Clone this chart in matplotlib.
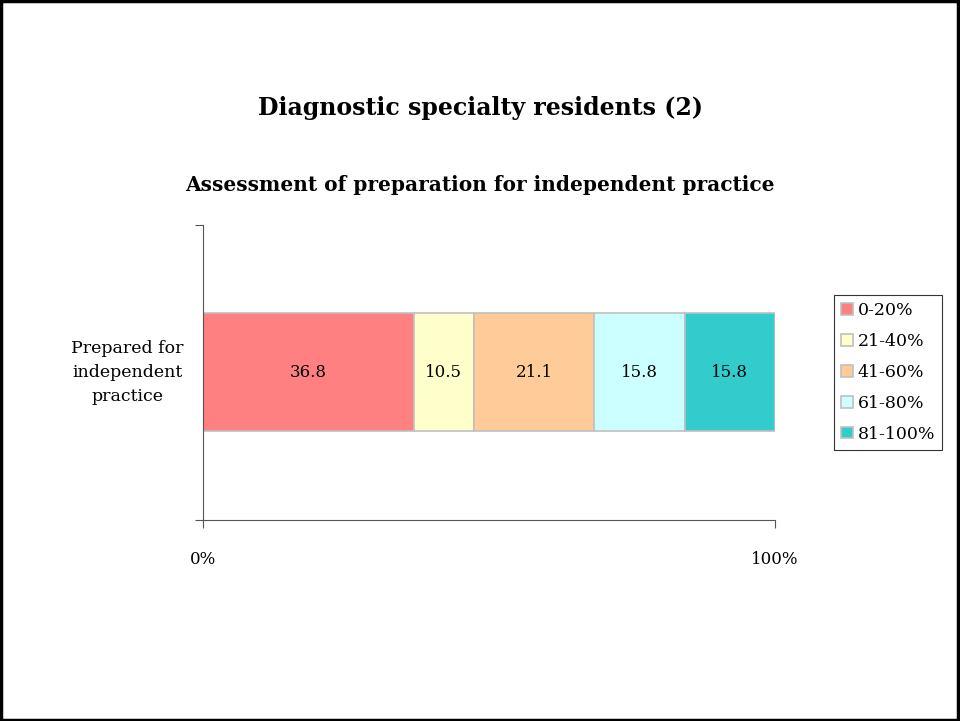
import matplotlib.pyplot as plt
from matplotlib.patches import Rectangle

category = "Prepared for\nindependent\npractice"
ranges = ["0-20%", "21-40%", "41-60%", "61-80%", "81-100%"]
values = [36.8, 10.5, 21.1, 15.8, 15.8]
colors = ["#FF8080", "#FFFFCC", "#FFCC99", "#CCFFFF", "#33CCCC"]

serif = ["DejaVu Serif"]

fig = plt.figure(figsize=(9.6, 7.21), dpi=100)
# slide border
fig.patches.append(Rectangle((0.001, 0.001), 0.997, 0.997, transform=fig.transFigure,
                             fill=False, edgecolor="black", linewidth=2.5))

ax = fig.add_axes([0.2115, 0.2788, 0.5958, 0.4092])

total = sum(values)
left = 0
for r, v, c in zip(ranges, values, colors):
    w = v / total * 100
    ax.barh(0, w, left=left, height=0.4, color=c, edgecolor="#C0C0C0",
            linewidth=1.2, label=r)
    ax.text(left + w / 2, 0, f"{v:.1f}", ha="center", va="center",
            fontsize=12, family=serif)
    left += w

ax.set_xlim(0, 100)
ax.set_ylim(-0.5, 0.5)
ax.set_xticks([0, 100])
ax.set_xticklabels(["0%", "100%"], family=serif, fontsize=12)
ax.tick_params(axis="x", direction="out", length=6, pad=16, color="#555555")
ax.set_yticks([-0.5, 0.5])
ax.set_yticklabels([])
ax.tick_params(axis="y", direction="out", length=6, color="#555555")
ax.text(-0.132, 0.5, category, transform=ax.transAxes, ha="center", va="center",
        fontsize=12.5, family=serif, linespacing=1.55)

for s in ["top", "right"]:
    ax.spines[s].set_visible(False)
ax.spines["left"].set_color("#555555")
ax.spines["bottom"].set_color("#555555")

leg = ax.legend(loc="center left", bbox_to_anchor=(1.104, 0.5), frameon=True,
                fancybox=False, edgecolor="black", prop={"family": serif, "size": 12.5},
                handlelength=0.65, handleheight=0.65, handletextpad=0.3,
                labelspacing=0.8, borderpad=0.4, borderaxespad=0)
leg.get_frame().set_linewidth(0.8)

fig.text(0.5, 0.85, "Diagnostic specialty residents (2)", ha="center", va="center",
         fontsize=17, fontweight="bold", family=serif)
fig.text(0.5, 0.743, "Assessment of preparation for independent practice", ha="center",
         va="center", fontsize=14.5, fontweight="bold", family=serif)

fig.savefig("out.png", dpi=100)
